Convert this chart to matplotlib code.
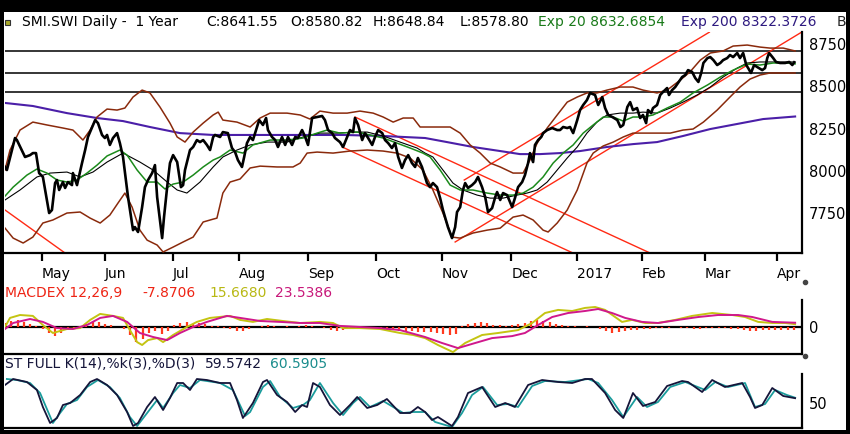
import numpy as np
import matplotlib
matplotlib.use("Agg")
import matplotlib.pyplot as plt
from matplotlib.patches import Rectangle
from matplotlib.lines import Line2D

# x axis = trading day index (0 = mid April 2016)
month_days = [11.8, 31.9, 53.7, 74.8, 96.8, 118.5, 139.6, 161.7, 182.8, 203.5, 223.6, 246.7]
month_names = ["May", "Jun", "Jul", "Aug", "Sep", "Oct", "Nov", "Dec", "2017", "Feb", "Mar", "Apr"]

# SMI daily close
close_day = [0.0, 0.6, 3.2, 3.8, 6.4, 8.0, 8.9, 9.9, 10.9, 12.1,
             14.1, 15.0, 16.0, 16.6, 17.3, 18.5, 19.2, 20.1, 21.4, 21.7,
             23.0, 24.6, 25.6, 26.5, 28.8, 29.7, 31.0, 31.9, 32.6, 33.5,
             34.5, 35.8, 36.7, 37.7, 39.3, 40.9, 41.5, 42.5, 43.8, 44.7,
             45.7, 47.0, 47.9, 48.6, 50.2, 50.8, 51.8, 52.7, 53.7, 55.0,
             56.2, 56.9, 57.5, 59.1, 60.1, 61.3, 62.3, 63.3, 64.5, 65.5,
             66.5, 67.1, 68.7, 69.6, 71.2, 72.5, 73.5, 74.4, 75.7, 76.4,
             77.3, 78.3, 79.2, 79.9, 81.2, 82.4, 83.4, 84.0, 85.3, 86.3,
             87.2, 88.5, 89.5, 90.4, 91.7, 92.7, 93.6, 94.9, 95.9, 96.8,
             98.1, 99.7, 101.3, 102.2, 103.2, 104.5, 105.4, 107.0, 108.0, 109.3,
             110.2, 111.2, 111.8, 112.8, 114.1, 115.0, 116.0, 117.3, 118.2, 119.2,
             120.5, 121.4, 122.4, 123.6, 124.6, 125.6, 126.8, 127.8, 128.8, 130.0,
             131.0, 131.9, 133.2, 134.2, 134.8, 135.8, 136.7, 138.0, 139.0, 139.9,
             141.5, 142.8, 143.8, 144.4, 145.4, 146.3, 147.0, 147.9, 149.2, 150.2,
             151.1, 152.4, 153.4, 154.3, 155.6, 156.6, 157.2, 158.2, 159.1, 160.4,
             162.0, 162.9, 163.9, 165.2, 166.1, 167.1, 167.7, 168.7, 169.3, 170.3,
             171.3, 171.9, 173.2, 174.8, 176.4, 177.3, 178.3, 179.6, 180.5, 181.5,
             182.8, 183.7, 184.7, 185.9, 186.9, 188.5, 189.5, 190.8, 191.7, 192.7,
             194.0, 195.6, 196.6, 197.5, 198.8, 199.7, 200.6, 201.9, 202.9, 203.8,
             204.8, 205.4, 206.4, 207.0, 208.3, 209.3, 210.2, 211.5, 212.1, 213.1,
             214.1, 215.0, 216.3, 217.3, 218.2, 219.5, 220.5, 221.5, 222.4, 223.1,
             224.4, 225.3, 226.3, 227.5, 228.5, 229.4, 230.7, 231.6, 232.6, 233.9,
             234.8, 235.8, 236.8, 237.4, 238.3, 239.3, 240.3, 241.9, 242.8, 243.5,
             244.1, 245.4, 246.3, 247.6, 249.2, 250.5, 251.5, 252.1]
close = [8024, 8006, 8195, 8183, 8083, 8094, 8106, 8106, 7988, 7965,
         7752, 7770, 7929, 7947, 7888, 7935, 7900, 7935, 7917, 7988,
         7917, 8047, 8124, 8201, 8301, 8283, 8213, 8195, 8213, 8154,
         8195, 8224, 8165, 8083, 7846, 7651, 7669, 7640, 7787, 7905,
         7947, 7988, 8035, 7846, 7604, 7728, 7905, 8047, 8094, 8053,
         7905, 7917, 8006, 8124, 8142, 8183, 8171, 8183, 8154, 8124,
         8201, 8213, 8201, 8230, 8224, 8136, 8112, 8065, 8024, 8083,
         8165, 8201, 8183, 8224, 8301, 8272, 8313, 8242, 8201, 8183,
         8142, 8201, 8154, 8201, 8154, 8201, 8195, 8242, 8201, 8154,
         8313, 8319, 8325, 8301, 8242, 8224, 8195, 8171, 8142, 8201,
         8242, 8230, 8313, 8272, 8183, 8224, 8195, 8154, 8201, 8242,
         8224, 8183, 8165, 8136, 8165, 8083, 8018, 8065, 8094, 8047,
         8024, 8077, 8024, 7965, 7929, 7905, 7929, 7905, 7840, 7770,
         7669, 7604, 7669, 7758, 7787, 7888, 7929, 7900, 7917, 7935,
         7965, 7905, 7846, 7758, 7781, 7846, 7876, 7829, 7870, 7858,
         7787, 7840, 7905, 7935, 7976, 8047, 8106, 8053, 8154, 8183,
         8201, 8224, 8242, 8254, 8242, 8242, 8260, 8254, 8260, 8224,
         8301, 8360, 8390, 8419, 8461, 8449, 8390, 8437, 8372, 8331,
         8319, 8301, 8260, 8272, 8378, 8407, 8360, 8372, 8313, 8331,
         8283, 8360, 8342, 8372, 8390, 8449, 8467, 8490, 8449, 8478,
         8496, 8520, 8555, 8567, 8596, 8585, 8549, 8526, 8579, 8638,
         8667, 8673, 8655, 8626, 8638, 8655, 8667, 8685, 8673, 8697,
         8667, 8697, 8626, 8608, 8579, 8626, 8614, 8596, 8608, 8667,
         8697, 8667, 8644, 8638, 8638, 8644, 8626, 8642]

# Exp 20 (green)
ema20_day = [0, 2.6, 7.0, 10.2, 13.4, 16.6, 19.8, 23.0, 26.2, 29.4, 32.6, 36.7, 39.0, 42.2,
             45.4, 48.6, 51.1, 53.7, 56.9, 60.1, 63.3, 66.5, 68.7, 71.9, 76.0, 79.2, 84.7,
             90.1, 95.2, 99.7, 102.9, 107.0, 112.5, 116.6, 120.8, 125.2, 129.4, 133.5,
             135.8, 139.0, 142.2, 145.4, 149.5, 154.0, 158.2, 162.3, 165.5, 168.7, 171.9,
             175.1, 178.3, 181.5, 184.7, 187.9, 191.1, 194.3, 197.5, 200.6, 203.8, 207.0,
             211.5, 215.7, 219.8, 224.4, 228.5, 232.6, 237.1, 241.2, 245.4, 249.8, 252.4]
ema20 = [7852, 7905, 7976, 8012, 7988, 7947, 7935, 7947, 7988, 8035, 8089, 8124, 8094, 8006,
         7935, 7935, 7894, 7923, 7935, 7976, 8024, 8065, 8083, 8124, 8106, 8154, 8183,
         8183, 8195, 8224, 8242, 8224, 8230, 8213, 8195, 8165, 8136, 8106,
         8083, 8006, 7917, 7888, 7888, 7870, 7858, 7858, 7870, 7905, 7965,
         8047, 8106, 8154, 8224, 8272, 8319, 8319, 8295, 8319, 8319, 8331,
         8372, 8407, 8461, 8508, 8555, 8596, 8632, 8626, 8638, 8638, 8633]

# 20 day average (Bollinger middle, thin black)
sma20_day = [0, 4.8, 10.2, 14.4, 19.8, 24.0, 28.1, 32.6, 37.7, 43.1, 47.3, 51.8, 55.0, 58.1,
             62.3, 66.5, 69.6, 74.1, 78.3, 83.7, 90.1, 95.2, 100.6, 106.1, 111.2, 115.7,
             120.8, 126.2, 131.6, 134.2, 136.7, 139.9, 143.1, 146.3, 150.8, 155.0, 159.1,
             163.6, 166.8, 170.0, 173.2, 176.4, 179.6, 182.8, 185.9, 189.1, 192.3, 196.5,
             200.6, 203.8, 208.3, 212.5, 216.6, 221.1, 225.3, 229.4, 233.9, 237.1, 241.2,
             245.4, 249.8, 252.4]
sma20 = [7829, 7888, 7965, 7988, 7994, 7965, 7994, 8053, 8106, 8053, 8006, 7935, 7888, 7870,
         7935, 8024, 8083, 8124, 8154, 8171, 8171, 8201, 8224, 8224, 8230, 8230,
         8207, 8171, 8136, 8106, 8083, 8006, 7929, 7888, 7858, 7840, 7840,
         7858, 7870, 7888, 7935, 8006, 8077, 8142, 8224, 8289, 8331, 8342,
         8342, 8348, 8342, 8372, 8407, 8449, 8496, 8555, 8608, 8638, 8644,
         8644, 8644, 8644]

# Bollinger bands (brown)
bb_up_day = [0, 1.6, 4.8, 8.9, 13.4, 18.5, 21.7, 24.9, 27.2, 29.4, 32.6, 35.8, 38.3, 40.9,
             43.8, 46.3, 49.5, 52.7, 55.0, 57.5, 60.1, 63.3, 66.5, 68.1, 69.6, 74.1, 78.3,
             81.5, 84.7, 90.1, 94.3, 97.4, 100.6, 104.8, 109.3, 113.4, 117.6, 120.8, 124.0,
             127.2, 130.4, 132.6, 136.7, 142.2, 145.4, 148.6, 151.8, 155.0, 158.2, 162.3,
             165.5, 167.7, 170.0, 173.2, 176.4, 179.6, 182.8, 185.9, 189.1, 192.3, 196.5,
             200.6, 203.8, 208.3, 211.5, 215.7, 218.8, 222.1, 225.3, 229.4, 232.6, 237.1,
             241.2, 244.4, 248.6, 252.4]
bb_up = [8006, 8124, 8242, 8289, 8272, 8254, 8242, 8183, 8242, 8319, 8366, 8360, 8372, 8437,
         8478, 8461, 8378, 8283, 8201, 8171, 8230, 8283, 8331, 8348, 8301, 8289, 8260,
         8313, 8342, 8342, 8331, 8307, 8354, 8342, 8342, 8354, 8342, 8319, 8289,
         8313, 8313, 8260, 8260, 8260, 8224, 8154, 8106, 8047, 8024, 7988,
         7988, 8065, 8165, 8254, 8331, 8407, 8437, 8461, 8461, 8478, 8496,
         8496, 8478, 8461, 8478, 8537, 8585, 8655, 8697, 8709, 8738, 8744,
         8732, 8726, 8726, 8709]
bb_lo_day = [0, 2.6, 5.8, 8.9, 12.1, 15.3, 19.8, 24.0, 27.2, 30.4, 33.5, 36.1, 38.3, 40.6,
             43.1, 45.4, 48.6, 50.5, 53.7, 56.9, 60.1, 63.3, 66.5, 67.7, 69.6, 71.9, 75.1,
             78.3, 81.5, 86.9, 92.0, 94.3, 96.5, 99.7, 104.8, 110.2, 115.7, 120.8, 125.2,
             129.4, 133.5, 136.7, 139.9, 142.8, 145.4, 149.5, 154.0, 158.2, 162.3, 165.5,
             168.7, 171.9, 173.5, 176.4, 179.6, 182.8, 185.9, 187.9, 191.1, 194.3, 197.5,
             200.6, 203.8, 208.3, 212.5, 216.6, 219.8, 223.1, 227.5, 231.6, 234.8, 238.0,
             241.2, 244.4, 248.6, 252.4]
bb_lo = [7663, 7604, 7575, 7610, 7693, 7711, 7752, 7758, 7722, 7693, 7740, 7811, 7870, 7787,
         7651, 7592, 7563, 7522, 7551, 7581, 7610, 7699, 7716, 7722, 7870, 7935, 7953,
         8018, 8029, 8024, 8024, 8047, 8106, 8112, 8106, 8118, 8124, 8118, 8106,
         8077, 8006, 7888, 7752, 7610, 7604, 7634, 7651, 7663, 7728, 7740,
         7711, 7651, 7640, 7693, 7770, 7888, 8047, 8106, 8148, 8171, 8201,
         8224, 8224, 8224, 8224, 8242, 8248, 8289, 8360, 8437, 8496, 8543,
         8567, 8579, 8579, 8579]

# Exp 200 (purple)
ema200_day = [0, 8.9, 19.8, 29.4, 37.7, 46.3, 55.9, 66.5, 81.5, 97.4, 108.0, 120.8, 134.2,
              141.2, 149.5, 158.2, 164.5, 170.9, 177.3, 183.7, 192.3, 200.6, 208.3, 216.6,
              225.3, 233.9, 242.2, 252.4]
ema200 = [8402, 8384, 8342, 8313, 8295, 8260, 8224, 8213, 8213, 8213, 8213, 8207, 8195,
          8171, 8142, 8118, 8100, 8100, 8106, 8118, 8142, 8159, 8171, 8207,
          8248, 8278, 8307, 8322]

# horizontal levels and trend channels (start/end day, start/end value)
levels = [8709, 8579, 8467]
trend_days = [[0, 20], [111.8, 207], [107.7, 182.5], [143.8, 255], [146.7, 225]]
trend_vals = [[7770, 7505], [8319, 7508], [8142, 7507], [7581, 8826], [7947, 8820]]

# MACD 12,26,9
macd_day = [0, 1.6, 4.8, 8.9, 12.1, 15.3, 19.8, 24.0, 27.2, 30.4, 34.5, 37.7, 39.9, 42.2,
            43.8, 45.7, 48.6, 50.5, 53.7, 58.1, 61.3, 65.5, 71.9, 75.1, 79.2, 83.7, 88.8,
            94.3, 100.6, 104.8, 108.0, 113.4, 119.8, 126.2, 130.4, 134.2, 138.3, 143.1,
            147.0, 152.4, 157.5, 163.9, 168.4, 172.5, 176.7, 181.2, 185.3, 188.5, 191.7,
            197.1, 200.3, 204.5, 208.6, 214.1, 219.5, 225.9, 232.3, 236.4, 240.6, 245.1,
            249.2, 252.4]
macd = [0, 50, 66, 61, 11, -33, -11, -6, 39, 72, 61, 50, -17, -83,
        -99, -72, -61, -83, -44, 0, 28, 50, 61, 39, 28, 44, 33,
        22, 28, 22, -6, -6, -11, -33, -44, -61, -99, -138,
        -88, -44, -33, -17, 22, 77, 94, 88, 105, 110, 94,
        28, 39, 22, 22, 39, 61, 77, 66, 55, 28, 22,
        22, 15.7]
signal_day = [0, 2.6, 8.0, 12.1, 16.6, 21.7, 26.2, 30.4, 34.5, 39.0, 43.1, 47.3, 51.8, 55.9,
              60.1, 64.5, 70.9, 75.1, 81.5, 87.9, 94.3, 100.6, 107.0, 113.4, 119.8, 126.2,
              134.2, 139.6, 144.7, 150.2, 155.6, 162.0, 166.1, 170.3, 174.8, 179.9, 185.3,
              189.5, 193.9, 198.1, 203.5, 208.6, 215.0, 221.5, 227.8, 234.2, 238.7, 245.1,
              252.4]
signal = [-11, 22, 44, 28, -6, -11, 11, 50, 61, 28, -33, -55, -72, -33,
          0, 28, 61, 50, 33, 28, 22, 22, 6, 0, -6, -17,
          -55, -88, -116, -88, -61, -50, -33, 11, 55, 77, 88,
          99, 77, 50, 28, 22, 39, 55, 66, 66, 55, 28,
          23.5]
hist_day = list(range(0, 253, 2))
hist = [22, 33, 39, 28, 17, 6, -11, -33, -50, -33, -17, -6, 6, 17, 28, 28, 17, 11, 0, -11,
        -44, -83, -66, -33, -22, -39, -22, 11, 22, 28, 17, 22, 17, 6, 6, -6, -11, -22, -22, -11,
        0, 6, 11, 6, 0, 6, 0, 6, 11, 6, 0, -6, -17, -22, -17, -11, -6, -6, -11, -11,
        -17, -22, -17, -22, -28, -22, -28, -28, -28, -33, -39, -44, -39, 6, 17, 22, 28, 22, 11, 11,
        6, 11, 17, 22, 33, 39, 33, 28, 17, 11, 6, 6, 0, 6, 0, -11, -22, -33, -28, -22,
        -17, -17, -11, -11, -6, -6, -6, 0, -6, -6, -11, -11, -6, -6, -6, -6, -11, -11, -17, -22,
        -22, -17, -17, -17, -17, -17, -17]

# Stochastic full 14,3,3
stk_day = [0, 2.6, 7.0, 10.2, 12.1, 14.4, 16.6, 18.5, 20.8, 24.0, 27.2, 29.4, 32.6, 35.8,
           39.0, 40.9, 42.5, 45.4, 47.9, 50.5, 52.7, 55.0, 56.9, 59.1, 61.3, 64.5, 68.7,
           71.9, 74.1, 76.0, 79.2, 82.4, 83.7, 86.9, 90.1, 92.7, 94.9, 96.5, 98.4, 100.6,
           103.8, 107.0, 110.2, 112.5, 115.7, 118.9, 122.0, 126.2, 129.4, 131.9, 134.2,
           136.4, 138.3, 142.8, 144.7, 147.9, 152.4, 156.6, 159.8, 162.9, 167.1, 171.6,
           176.7, 181.2, 185.3, 187.5, 191.7, 194.9, 197.5, 200.6, 203.8, 207.7, 211.5,
           216.3, 218.2, 222.7, 225.9, 230.0, 235.5, 238.0, 239.6, 241.9, 245.1, 248.6, 252.4]
stk = [86, 98, 92, 76, 42, 10, 20, 46, 50, 66, 92, 98, 86, 66,
       32, 4, 10, 42, 62, 36, 60, 90, 90, 76, 98, 96, 90,
       90, 56, 20, 50, 92, 96, 66, 52, 32, 46, 42, 90, 82,
       46, 26, 46, 62, 40, 46, 58, 30, 30, 42, 32,
       16, 22, 4, 22, 70, 82, 42, 50, 42, 86, 96,
       92, 90, 98, 98, 70, 36, 20, 70, 44, 52, 84,
       94, 92, 72, 96, 82, 90, 62, 40, 46, 80, 64, 59.6]
std_day = [0.6, 3.8, 8.0, 11.2, 15.3, 17.6, 19.8, 23.0, 26.2, 29.7, 33.5, 36.7, 39.9, 42.2,
           45.4, 48.6, 50.5, 53.7, 55.9, 59.1, 62.3, 68.7, 72.8, 76.7, 78.3, 82.4, 84.7,
           87.9, 92.0, 95.2, 97.4, 100.6, 104.8, 108.0, 111.2, 113.4, 116.6, 120.8, 127.2,
           130.4, 134.2, 137.4, 142.8, 146.0, 149.2, 152.7, 157.2, 160.7, 163.9, 168.4,
           172.5, 178.9, 186.3, 189.5, 193.9, 197.5, 201.9, 205.1, 208.6, 212.5, 217.3,
           223.7, 226.9, 231.0, 236.4, 239.6, 242.8, 246.0, 249.8, 252.4]
std = [98, 96, 90, 70, 10, 30, 48, 56, 82, 96, 82, 60, 22, 4,
       30, 56, 40, 70, 86, 80, 96, 90, 76, 24, 32, 82, 94,
       62, 40, 46, 56, 90, 50, 26, 50, 62, 42, 54, 30,
       32, 32, 12, 2, 30, 66, 82, 46, 48, 42, 84,
       94, 92, 98, 90, 56, 22, 62, 42, 52, 82, 92,
       76, 92, 82, 90, 42, 48, 76, 66, 60.6]

W, H = 850, 434
fig = plt.figure(figsize=(W / 100, H / 100), dpi=100, facecolor="white")


def box(l, t, r, b):
    return [l / W, 1 - b / H, (r - l) / W, (b - t) / H]


ax = fig.add_axes(box(5, 32, 802, 253))
ax2 = fig.add_axes(box(5, 300, 802, 354))
ax3 = fig.add_axes(box(5, 374, 802, 428))

# ---- price panel
for lv in levels:
    ax.axhline(lv, color="black", lw=1.1, zorder=1)
for dd, vv in zip(trend_days, trend_vals):
    ax.plot(dd, vv, color="#ff2a14", lw=1.0, zorder=2)
ax.plot(ema200_day, ema200, color="#4b1fa8", lw=1.5, zorder=3)
ax.plot(bb_up_day, bb_up, color="#8a2a0c", lw=1.1, zorder=3)
ax.plot(bb_lo_day, bb_lo, color="#8a2a0c", lw=1.1, zorder=3)
ax.plot(sma20_day, sma20, color="black", lw=0.8, zorder=4)
ax.plot(ema20_day, ema20, color="#1b8a1b", lw=1.1, zorder=4)
ax.plot(close_day, close, color="black", lw=1.9, zorder=5)

ax.set_xlim(0, 254.6)
ax.set_ylim(7516, 8821)
ax.yaxis.tick_right()
ax.set_yticks([7750, 8000, 8250, 8500, 8750])
ax.tick_params(axis="y", length=0, pad=5, labelsize=10.5)
ax.set_xticks(month_days)
ax.set_xticklabels(month_names, ha="left")
ax.tick_params(axis="x", direction="out", length=5.5, width=1.6, pad=4.5, labelsize=10)

# ---- MACD panel
ax2.axhline(0, color="black", lw=1.6, zorder=1)
ax2.vlines(hist_day, 0, hist, color="#ff3a1e", lw=1.6, zorder=2)
ax2.plot(macd_day, macd, color="#c4c412", lw=1.4, zorder=3)
ax2.plot(signal_day, signal, color="#d0188c", lw=1.4, zorder=3)
ax2.set_xlim(0, 254.6)
ax2.set_ylim(-148.5, 148.5)
ax2.yaxis.tick_right()
ax2.set_yticks([0])
ax2.tick_params(axis="y", length=0, pad=5, labelsize=10.5)
ax2.set_xticks([])

# ---- stochastic panel
ax3.plot(stk_day, stk, color="#15153a", lw=1.3, zorder=3)
ax3.plot(std_day, std, color="#1a9c9c", lw=1.3, zorder=2)
ax3.set_xlim(0, 254.6)
ax3.set_ylim(0, 108)
ax3.yaxis.tick_right()
ax3.set_yticks([50])
ax3.tick_params(axis="y", length=0, pad=5, labelsize=10.5)
ax3.set_xticks([])

for a in (ax, ax2, ax3):
    a.set_facecolor("none")
    a.spines["top"].set_visible(False)
    a.spines["left"].set_visible(False)
    a.spines["bottom"].set_linewidth(1.6)
    a.spines["right"].set_linewidth(1.6)

# ---- header texts
def seg(x, y, s, color):
    fig.text(x / W, 1 - y / H, s, color=color, fontsize=10, va="center", ha="left")


seg(22, 22, "SMI.SWI Daily -  1 Year", "black")
seg(206, 22, "C:8641.55", "black")
seg(290, 22, "O:8580.82", "black")
seg(373, 22, "H:8648.84", "black")
seg(460, 22, "L:8578.80", "black")
seg(538, 22, "Exp 20 8632.6854", "#1a7a1a")
seg(681, 22, "Exp 200 8322.3726", "#2e1a80")
seg(837, 22, "Bo", "#222222")
fig.add_artist(Rectangle((5 / W, 1 - 25 / H), 5 / W, 5 / H, transform=fig.transFigure,
                         facecolor="#a8a828", edgecolor="#333333", lw=0.8))

seg(5, 293, "MACDEX 12,26,9", "#ee2414")
seg(142, 293, "-7.8706", "#ee2414")
seg(209, 293, "15.6680", "#b8b814")
seg(275, 293, "23.5386", "#c8187a")

seg(5, 364, "ST FULL K(14),%k(3),%D(3)", "#15153a")
seg(205, 364, "59.5742", "#15153a")
seg(270, 364, "60.5905", "#1a8c8c")

for py in (282, 356):
    fig.add_artist(Line2D([805 / W], [1 - py / H], marker="o", ms=3, color="#444444",
                          transform=fig.transFigure))

# black frame
for r in [(0, 0, 4, H), (846, 0, W, H), (0, 0, W, 12), (0, 430, W, H)]:
    l, t, rr, b = r
    fig.add_artist(Rectangle((l / W, 1 - b / H), (rr - l) / W, (b - t) / H,
                             transform=fig.transFigure, facecolor="black",
                             edgecolor="none", zorder=100))

fig.savefig("out.png", dpi=100, facecolor="white")
